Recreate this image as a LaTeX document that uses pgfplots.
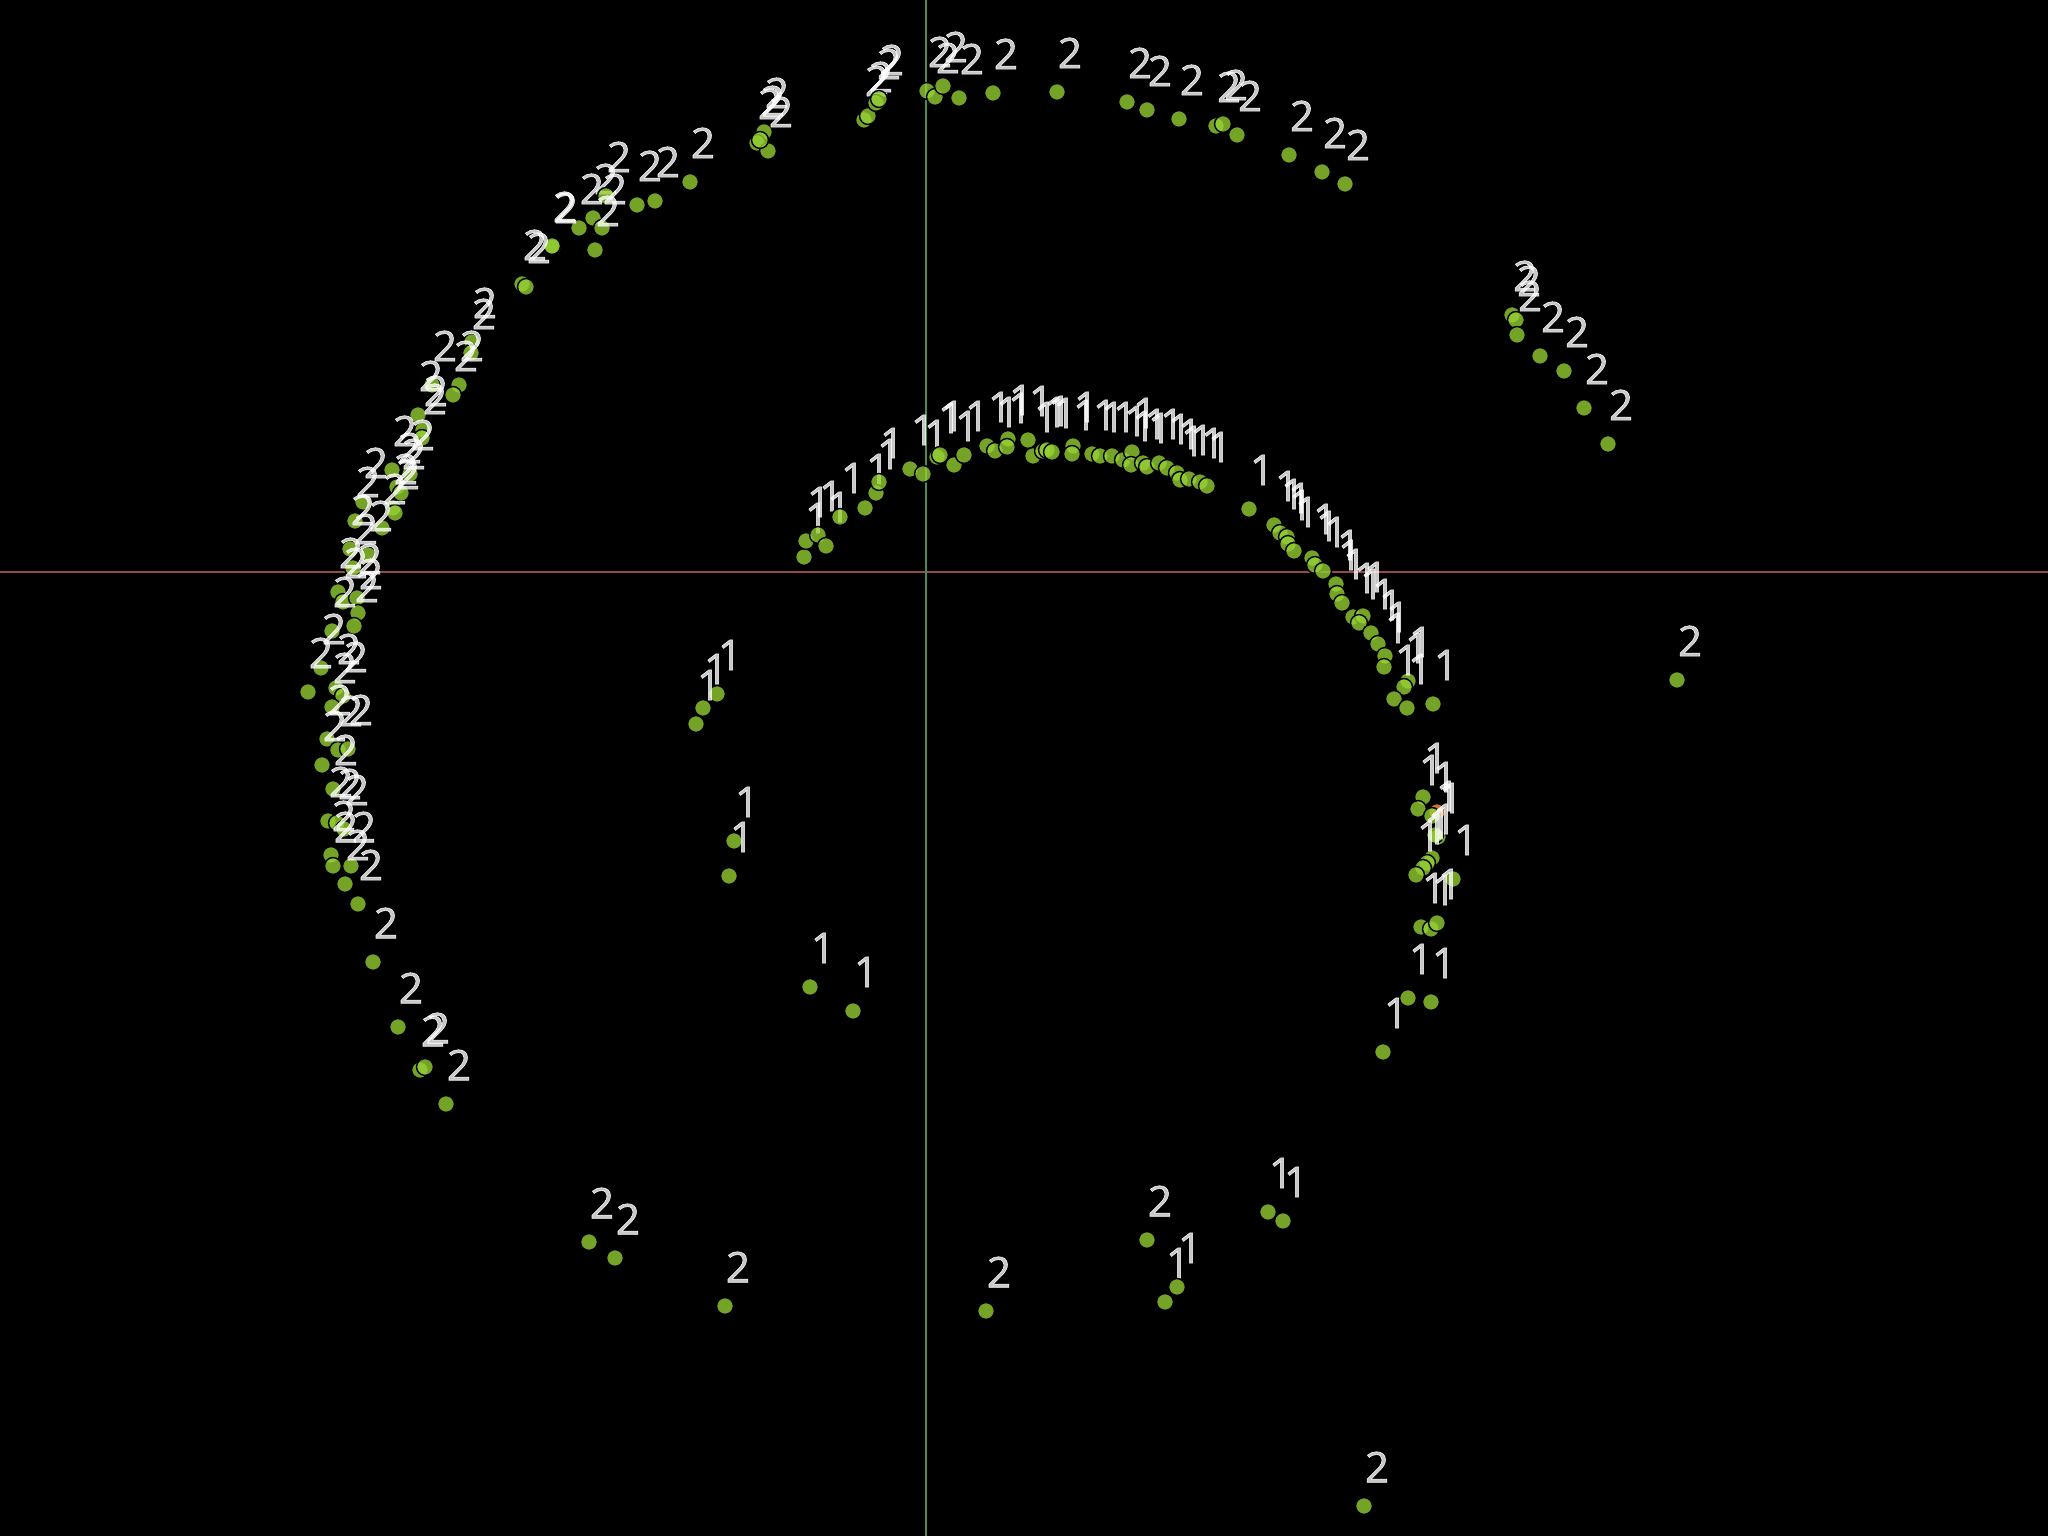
\documentclass[border=0pt]{standalone}
\usepackage{fontspec}
\setmainfont{Open Sans}
\newfontfamily\labfont{Open Sans}[FakeBold=1.2]
\usepackage{pgfplots}
\pgfplotsset{compat=1.18}
\usepackage{pgfplotstable}
\definecolor{pt}{RGB}{150,210,52}
\definecolor{hline}{RGB}{150,75,75}
\definecolor{vline}{RGB}{75,140,75}
\definecolor{orng}{RGB}{235,140,50}

\pgfplotstableread{
x y l
-333 354 2
-320 376 2
-289 367 2
-271 371 2
-236 390 2
-162 440 2
-169 429 2
-158 421 2
-166 432 2
-62 452 2
-58 456 2
-50 469 2
-47 473 2
1 481 2
9 475 2
17 486 2
33 474 2
67 479 2
131 480 2
201 470 2
221 462 2
253 453 2
290 446 2
297 448 2
311 437 2
363 417 2
396 400 2
419 388 2
-324 344 2
-347 344 2
-331 322 2
-373 325 2
-374 326 2
-404 288 2
-400 285 2
-454 230 2
-455 219 2
-494 187 2
-467 187 2
-473 177 2
-508 157 2
-503 142 2
-504 134 2
-534 102 2
-516 98 2
-529 85 2
-525 79 2
-563 70 2
-533 64 2
-531 59 2
-571 51 2
-544 44 2
-576 23 2
-558 17 2
-573 4 2
-588 -20 2
-583 -30 2
-569 -26 2
-568 -41 2
-572 -54 2
-594 -59 2
-605 -96 2
-618 -120 2
-590 -116 2
-583 -124 2
-594 -135 2
-599 -167 2
-588 -178 2
-578 -177 2
-604 -193 2
-593 -217 2
-598 -249 2
-589 -251 2
-582 -257 2
-595 -283 2
-593 -294 2
-575 -294 2
-581 -312 2
-568 -332 2
-553 -390 2
-528 -455 2
-506 -498 2
-501 -495 2
-480 -532 2
586 257 2
590 252 2
591 237 2
614 216 2
638 201 2
658 164 2
682 128 2
751 -108 2
-337 -670 2
-311 -686 2
-201 -734 2
60 -739 2
221 -668 2
438 -934 2
-122 15 1
-120 31 1
-108 37 1
-100 26 1
-86 55 1
-61 64 1
-50 79 1
-47 90 1
-16 103 1
-3 98 1
11 115 1
14 117 1
28 107 1
38 117 1
61 126 1
69 121 1
82 133 1
81 125 1
102 132 1
107 116 1
117 121 1
121 122 1
126 120 1
147 126 1
146 118 1
166 118 1
174 116 1
186 116 1
197 112 1
206 120 1
205 107 1
217 109 1
221 105 1
233 109 1
241 104 1
251 99 1
254 92 1
263 93 1
274 90 1
281 86 1
323 63 1
348 47 1
354 39 1
361 35 1
362 28 1
368 21 1
386 14 1
389 7 1
397 1 1
410 -12 1
411 -22 1
416 -31 1
427 -45 1
437 -44 1
433 -51 1
445 -61 1
452 -72 1
459 -84 1
458 -95 1
482 -109 1
478 -115 1
468 -127 1
481 -136 1
507 -132 1
497 -225 1
492 -237 1
506 -244 1
512 -265 1
509 -263 1
506 -286 1
501 -291 1
497 -296 1
490 -303 1
527 -307 1
495 -355 1
505 -357 1
511 -351 1
482 -426 1
505 -430 1
457 -480 1
-209 -122 1
-223 -136 1
-230 -152 1
-192 -269 1
-197 -304 1
-116 -415 1
-73 -439 1
239 -730 1
251 -715 1
342 -640 1
357 -649 1
}\pts

\begin{document}
\begin{tikzpicture}
\fill[black] (-0.2,-0.2) rectangle (20.68,15.56);
\begin{axis}[
  at={(0,0)}, anchor=south west,
  width=20.48cm, height=15.36cm, scale only axis,
  xmin=-926, xmax=1122, ymin=-964, ymax=572,
  axis lines=middle, ticks=none,
  axis line style={-},
  x axis line style={draw=hline, line width=0.6pt},
  y axis line style={draw=vline, line width=0.6pt},
  axis background/.style={fill=black},
  clip=false,
]
\addplot[only marks, mark=*, mark size=2.4pt,
  mark options={draw=none, fill=orng, fill opacity=0.85}]
  coordinates {(511,-240)};
\addplot[only marks, mark=*, mark size=2.4pt,
  mark options={draw=none, fill=pt, fill opacity=0.78},
  point meta=explicit symbolic,
  nodes near coords,
  every node near coord/.append style={anchor=center, xshift=0.13cm, yshift=0.39cm,
    inner sep=0pt, text=white, font=\labfont\fontsize{12}{14}\selectfont},
] table[x=x, y=y, meta=l] {\pts};
\end{axis}
\pgfresetboundingbox
\useasboundingbox (0,0) rectangle (20.48,15.36);
\end{tikzpicture}
\end{document}
